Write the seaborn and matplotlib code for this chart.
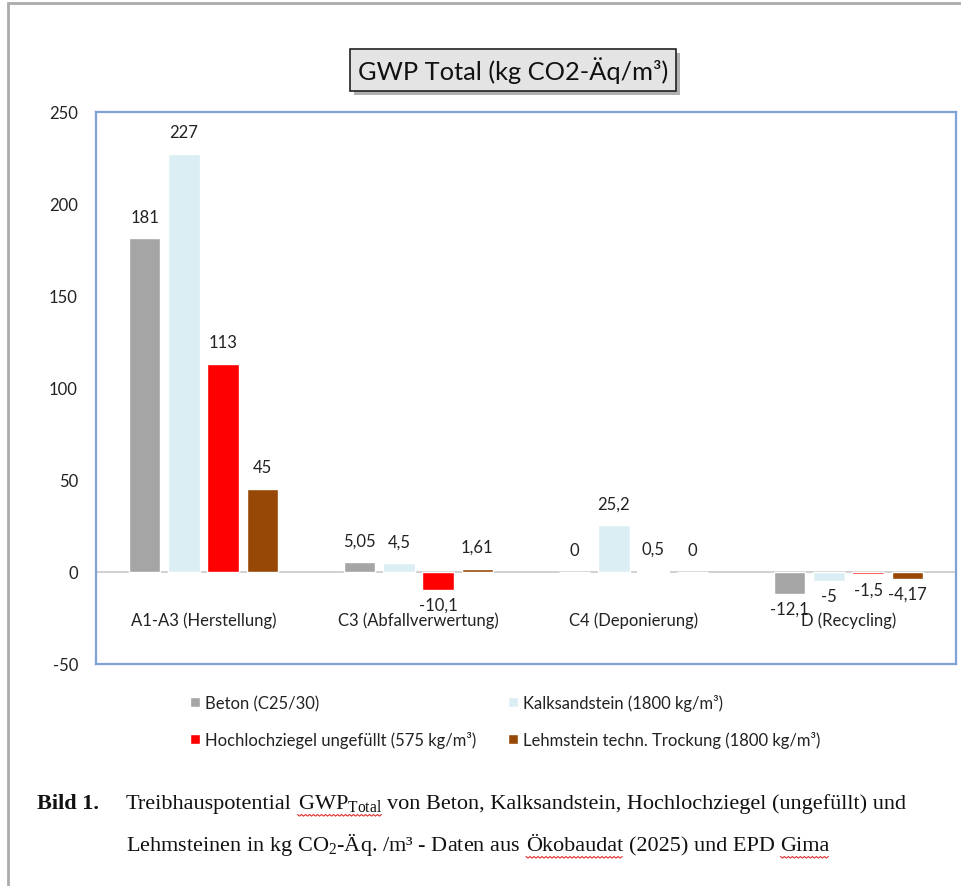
import numpy as np
import pandas as pd
import matplotlib
matplotlib.use("Agg")
import matplotlib.pyplot as plt
from matplotlib.patches import Rectangle
from matplotlib.lines import Line2D
import seaborn as sns

# --- data ---------------------------------------------------------------
phases = ["A1-A3 (Herstellung)", "C3 (Abfallverwertung)", "C4 (Deponierung)", "D (Recycling)"]
materials = [
    "Beton (C25/30)",
    "Kalksandstein (1800 kg/m³)",
    "Hochlochziegel ungefüllt (575 kg/m³)",
    "Lehmstein techn. Trockung (1800 kg/m³)",
]
beton = [181, 5.05, 0, -12.1]
kalksandstein = [227, 4.5, 25.2, -5]
hochlochziegel = [113, -10.1, 0.5, -1.5]
lehmstein = [45, 1.61, 0, -4.17]
colors = ["#A5A5A5", "#DAEEF3", "#FF0000", "#974706"]
yticks = [-50, 0, 50, 100, 150, 200, 250]

series = [beton, kalksandstein, hochlochziegel, lehmstein]
df = pd.DataFrame(
    [(p, m, v) for m, vals in zip(materials, series) for p, v in zip(phases, vals)],
    columns=["phase", "material", "value"],
)

sns.set_theme(style="white")
plt.rcParams["font.family"] = ["Lato", "DejaVu Sans"]
plt.rcParams["mathtext.fontset"] = "custom"
plt.rcParams["mathtext.rm"] = "Liberation Serif"
plt.rcParams["mathtext.it"] = "Liberation Serif:italic"

W, H = 961, 887
fig = plt.figure(figsize=(W / 100, H / 100), dpi=100)
fig.patch.set_facecolor("white")


def fx(px):
    return px / W


def fy(py):
    return 1 - py / H


TXT = "#222222"
FS = 12

# outer frame (cut off at right and bottom)
fig.add_artist(Rectangle((fx(8), fy(900)), 1.2, fy(4) - fy(900), transform=fig.transFigure,
                         fill=False, ec="#ABABAB", lw=2.0))

ax = fig.add_axes([fx(96), fy(664.5), fx(956) - fx(96), fy(112.5) - fy(664.5)])
sns.barplot(data=df, x="phase", y="value", hue="material", hue_order=materials,
            order=phases, palette=colors, width=0.73, gap=0.2, saturation=1,
            ax=ax, legend=True)

ax.set_ylim(-50, 250)
ax.set_yticks(yticks)
ax.set_yticklabels([str(t) for t in yticks], fontsize=FS, color=TXT)
ax.tick_params(axis="y", length=0, pad=13)
ax.set_xticks([])
ax.set_xlabel("")
ax.set_ylabel("")
for s in ax.spines.values():
    s.set_visible(True)
    s.set_color("#7EA1D6")
    s.set_linewidth(1.6)
ax.axhline(0, color="#C8C8C8", lw=1.2, zorder=0.5)

# category labels inside the plot area, below the zero line
for i, p in enumerate(phases):
    ax.text(i, -26, p, ha="center", va="center", fontsize=FS, color=TXT)


# data labels with comma decimal separator
def fmt(v):
    return f"{v:g}".replace(".", ",")


for container, vals in zip(ax.containers, series):
    for bar, v in zip(container, vals):
        xc = bar.get_x() + bar.get_width() / 2
        if v >= 0:
            ax.annotate(fmt(v), (xc, v), xytext=(0, 10), textcoords="offset points",
                        ha="center", va="bottom", fontsize=FS, color=TXT)
        else:
            ax.annotate(fmt(v), (xc, v), xytext=(0, -5), textcoords="offset points",
                        ha="center", va="top", fontsize=FS, color=TXT)

# legend below the plot, filled row by row
handles, labels = ax.get_legend_handles_labels()
ax.get_legend().remove()
order = [0, 2, 1, 3]
fig.legend([handles[i] for i in order], [labels[i] for i in order], ncol=2,
           loc="upper left", bbox_to_anchor=(fx(190), fy(695)), borderpad=0,
           borderaxespad=0, frameon=False, fontsize=FS, handlelength=0.6,
           handleheight=0.6, handletextpad=0.3, columnspacing=1.9, labelspacing=1.2,
           labelcolor=TXT)

# title box with drop shadow
title = fig.text(fx(513), fy(71), "GWP Total (kg CO2-Äq/m³)", ha="center", va="center",
                 fontsize=18.3, color="#111111", zorder=5,
                 bbox=dict(boxstyle="square,pad=0.3", fc="#E4E4E4", ec="#222222", lw=1.2))
fig.canvas.draw()
renderer = fig.canvas.get_renderer()
tb = title.get_bbox_patch().get_window_extent(renderer)
fig.add_artist(Rectangle(((tb.x0 + 4) / W, (tb.y0 - 4) / H), tb.width / W, tb.height / H,
                         transform=fig.transFigure, fc="#B0B0B0", ec="none", zorder=4))

# caption beneath the chart
serif = ["Liberation Serif", "DejaVu Serif"]
cap_fs = 16
fig.text(fx(37), fy(809), "Bild 1.", fontsize=cap_fs, fontweight="bold", family=serif,
         va="baseline", color="#111111")


def text_width(s):
    t = fig.text(0, 0, s, fontsize=cap_fs, family=serif)
    w = t.get_window_extent(renderer).width
    t.remove()
    return w


space = text_width("x x") - text_width("xx")


def write_pieces(x_px, y_px, pieces):
    """Place words left to right; return pixel bboxes of pieces flagged True."""
    marks = []
    x = x_px
    for txt, flag in pieces:
        t = fig.text(fx(x), fy(y_px), txt, fontsize=cap_fs, family=serif, va="baseline",
                     color="#111111")
        bb = t.get_window_extent(renderer)
        if flag:
            marks.append(bb)
        x += bb.width + space
    return marks


line1 = [("Treibhauspotential", False), (r"GWP$_{\mathrm{Total}}$", True),
         ("von Beton, Kalksandstein, Hochlochziegel (ungefüllt) und", False)]
line2 = [(r"Lehmsteinen in kg CO$_{2}$-Äq. /m³ - Daten aus", False), ("Ökobaudat", True),
         ("(2025) und EPD", False), ("Gima", True)]
marks = write_pieces(126, 809, line1) + write_pieces(126, 851, line2)

# red spell-check squiggles
for bb in marks:
    xs = np.arange(bb.x0, bb.x1, 2.0)
    base = bb.y0 - 1.5
    ys = base + np.where(np.arange(len(xs)) % 2 == 0, 0.0, -1.6)
    fig.add_artist(Line2D(xs / W, ys / H, transform=fig.transFigure, color="#E03030", lw=0.8))

fig.savefig("out.png", dpi=100)
